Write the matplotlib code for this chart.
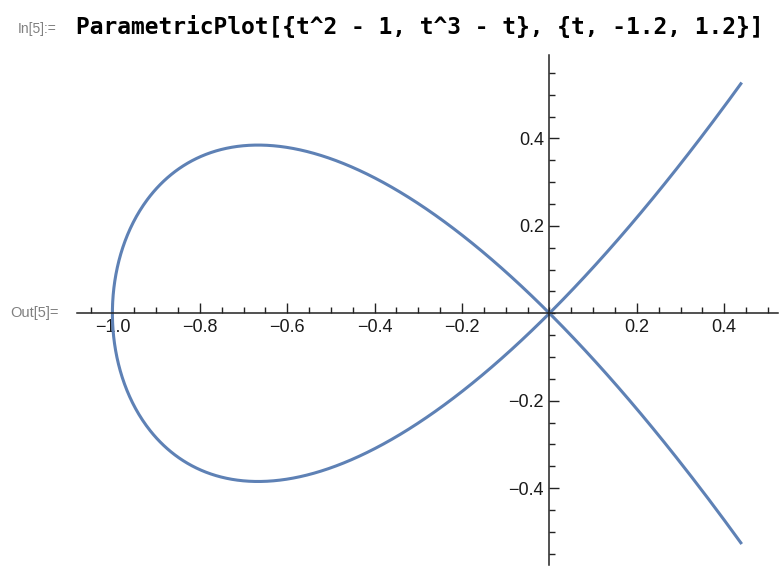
import numpy as np
import matplotlib.pyplot as plt
from matplotlib.ticker import FixedLocator, MultipleLocator

# ParametricPlot[{t^2 - 1, t^3 - t}, {t, -1.2, 1.2}]
t_min, t_max = -1.2, 1.2
x_ticks = [-1.0, -0.8, -0.6, -0.4, -0.2, 0.2, 0.4]
y_ticks = [-0.4, -0.2, 0.2, 0.4]
x_labels = ['\u22121.0', '\u22120.8', '\u22120.6', '\u22120.4', '\u22120.2', '0.2', '0.4']
y_labels = ['\u22120.4', '\u22120.2', '0.2', '0.4']

t = np.linspace(t_min, t_max, 600)
x = t**2 - 1
y = t**3 - t

fig = plt.figure(figsize=(7.8, 5.66), dpi=100)
ax = fig.add_axes([77 / 780, 1 / 566, 701 / 780, 510 / 566])
ax.patch.set_alpha(0)

ax.plot(x, y, color='#5E81B5', lw=2.2, solid_capstyle='butt')
ax.set_xlim(-1.081, 0.523)
ax.set_ylim(-0.576, 0.591)

# axes through the origin, Mathematica style
for side in ['top', 'right']:
    ax.spines[side].set_visible(False)
ax.spines['left'].set_position(('data', 0))
ax.spines['bottom'].set_position(('data', 0))
for side in ['left', 'bottom']:
    ax.spines[side].set_linewidth(1.1)
    ax.spines[side].set_color('#222222')

ax.xaxis.set_major_locator(FixedLocator(x_ticks))
ax.yaxis.set_major_locator(FixedLocator(y_ticks))
ax.set_xticklabels(x_labels)
ax.set_yticklabels(y_labels)
ax.xaxis.set_minor_locator(MultipleLocator(0.05))
ax.yaxis.set_minor_locator(MultipleLocator(0.05))
ax.tick_params(which='major', direction='in', length=7, width=1.0, color='#222222',
               labelsize=13, labelcolor='#1a1a1a', pad=4)
ax.tick_params(which='minor', direction='in', length=4, width=1.0, color='#222222')
for lab in ax.get_xticklabels() + ax.get_yticklabels():
    lab.set_fontfamily('Liberation Sans')

fig.text(18 / 780, 1 - 29 / 566, 'In[5]:=', fontsize=10, color='#808080',
         family='Liberation Sans', va='center', ha='left')
fig.text(76 / 780, 1 - 28 / 566, 'ParametricPlot[{t^2 - 1, t^3 - t}, {t, -1.2, 1.2}]',
         fontsize=16.5, fontweight='bold', family='DejaVu Sans Mono', color='#000000',
         va='center', ha='left')
fig.text(10 / 780, 1 - 313 / 566, 'Out[5]=', fontsize=10.5, color='#808080',
         family='Liberation Sans', va='center', ha='left')

fig.savefig('out.png', dpi=100)
